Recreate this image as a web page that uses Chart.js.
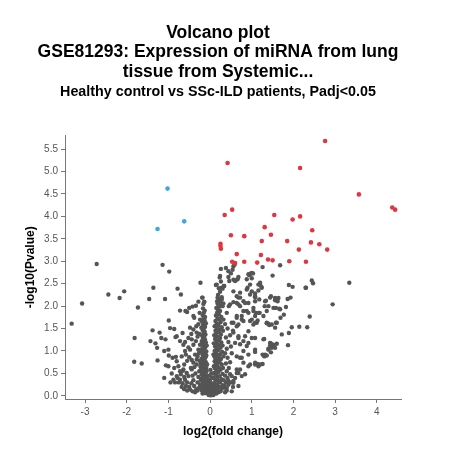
<!DOCTYPE html>
<html>
<head>
<meta charset="utf-8">
<script src="https://cdn.jsdelivr.net/npm/chart.js@4.4.0/dist/chart.umd.min.js"></script>
<style>
html,body{margin:0;padding:0;background:#fff;}
canvas{display:block;}
</style>
</head>
<body>
<canvas id="c" width="464" height="469"></canvas>
<script>
const titleLines = ['Volcano plot', 'GSE81293: Expression of miRNA from lung', 'tissue from Systemic...'];
const subtitleText = 'Healthy control vs SSc-ILD patients, Padj<0.05';
const xTitle = 'log2(fold change)';
const yTitle = '-log10(Pvalue)';
const xTicks = [-3, -2, -1, 0, 1, 2, 3, 4];
const yTicks = [0, 0.5, 1, 1.5, 2, 2.5, 3, 3.5, 4, 4.5, 5, 5.5];
const xRange = [-3.48, 4.58];
const yRange = [-0.07, 5.80];

// significantly up-regulated (red)
const upPoints = [
[0.42,5.19],[0.35,4.03],[0.53,4.15],[0.50,3.58],[0.25,3.39],[0.25,3.34],[0.26,3.28],[0.64,3.16],[0.53,2.99],
[2.76,5.68],[2.16,5.08],[3.57,4.49],[4.37,4.20],[4.44,4.15],[1.54,4.03],[1.98,3.93],[2.16,4.00],[1.31,3.76],
[2.45,3.69],[0.82,3.56],[1.46,3.59],[1.24,3.45],[1.85,3.45],[2.42,3.42],[2.62,3.38],[2.13,3.26],[2.81,3.26],
[1.22,3.14],[1.39,3.04],[1.50,3.02],[0.82,2.99],[1.13,2.97],[1.90,3.00],[2.30,2.99],[0.60,2.96]
];
// significantly down-regulated (blue)
const downPoints = [[-1.02,4.62],[-0.62,3.89],[-1.26,3.72]];
// not significant (grey)
const nsPoints = [
[-3.32,1.61],[-3.07,2.06],[-2.72,2.94],[-2.44,2.26],[-2.17,2.18],[-2.06,2.33],[-1.73,1.97],[-1.81,1.29],[-1.82,0.76],
[-1.64,0.72],[-1.46,2.16],[-1.36,2.41],[-1.38,1.46],[-1.43,1.22],[-1.31,1.17],[-1.27,1.07],[-1.26,0.79],[-1.10,0.40],
[-1.08,2.16],[-1.21,1.41],[-1.17,1.29],[-1.07,1.26],[-1.10,1.00],[-1.00,1.03],[-0.99,1.68],[-0.96,1.51],[-0.86,1.49],
[-0.99,0.90],[-1.06,0.68],[-1.00,0.66],[-0.98,2.77],[-1.14,2.92],[-0.78,2.39],[-0.70,2.26],[-0.83,1.31],[-0.90,0.85],
[-0.82,0.87],[-0.80,0.77],[-0.86,0.62],[-0.72,1.90],[-0.55,1.87],[-0.50,1.96],[-0.42,1.99],[-0.34,2.01],[-0.23,2.52],
[-0.19,2.19],[-0.40,1.78],[-0.16,2.05],[-0.59,1.89],[-0.38,1.74],
[-0.80,1.33],[-0.72,1.22],[-0.64,1.14],[-0.52,1.29],[-0.44,1.26],[-0.40,1.14],[-0.48,1.03],[-0.60,1.00],[-0.68,0.88],
[-0.76,0.66],[-0.72,0.55],[-0.64,0.59],[-0.56,0.51],[-0.80,0.44],[-0.88,0.36],[-0.72,0.36],[-0.60,0.36],[-0.52,0.44],
[-0.44,0.59],[-0.40,0.74],[-0.32,0.81],[-0.36,0.92],[-0.28,1.03],[-0.24,1.14],[-0.20,1.22],[-0.32,1.41],[-0.40,1.48],
[-0.48,1.52],
[-0.50,0.20],[-0.45,0.28],[-0.40,0.35],[-0.38,0.22],[-0.33,0.15],[-0.30,0.30],[-0.28,0.42],[-0.26,0.55],[-0.35,0.50],
[-0.42,0.45],[-0.46,0.62],[-0.38,0.64],[-0.32,0.70],[-0.25,0.78],[-0.30,0.88],[-0.27,0.95],[-0.55,0.30],[-0.58,0.22],
[-0.62,0.42],[-0.66,0.28],[-0.70,0.48],[-0.68,0.20],[-0.75,0.30],[-0.78,0.40],[-0.84,0.30],[-0.62,0.70],[-0.55,0.78],
[-0.50,0.86],[-0.44,0.80],[-0.58,0.92],[-0.52,1.08],[-0.34,1.22],[-0.30,1.32],[-0.26,1.38],[-0.45,1.38],[-0.60,1.20],
[-0.66,1.40],[-0.92,0.50],[-0.95,0.30],[-0.65,0.56],[-0.22,0.35],[-0.24,0.25],[-0.20,0.48],[-0.23,0.65],[-0.48,0.14],
[-0.42,0.10],[-0.36,0.08],[-0.30,0.12],[-0.26,0.18],[-0.55,0.12],[-0.62,0.15],[-0.28,1.60],[-0.24,1.70],[-0.33,1.55],
[-0.25,1.85],[-0.28,2.10],
[-0.18,0.05],[-0.12,0.06],[-0.08,0.08],[-0.15,0.10],[-0.20,0.12],[-0.10,0.14],[-0.17,0.17],[-0.13,0.20],[-0.07,0.22],
[-0.21,0.24],[-0.15,0.26],[-0.11,0.29],[-0.18,0.31],[-0.09,0.33],[-0.14,0.36],[-0.20,0.38],[-0.12,0.40],[-0.16,0.43],
[-0.08,0.45],[-0.19,0.47],[-0.13,0.50],[-0.10,0.52],[-0.17,0.55],[-0.14,0.58],[-0.21,0.60],[-0.09,0.62],[-0.16,0.65],
[-0.12,0.67],[-0.19,0.70],[-0.14,0.73],[-0.10,0.75],[-0.17,0.78],[-0.13,0.80],[-0.20,0.83],[-0.11,0.86],[-0.15,0.88],
[-0.18,0.91],[-0.12,0.94],[-0.16,0.97],[-0.09,0.99],[-0.14,1.02],[-0.19,1.05],[-0.12,1.08],[-0.16,1.11],[-0.13,1.14],
[-0.18,1.17],[-0.10,1.19],[-0.15,1.22],[-0.12,1.25],[-0.17,1.28],[-0.14,1.31],[-0.19,1.34],[-0.11,1.37],[-0.16,1.40],
[-0.13,1.43],[-0.18,1.47],[-0.15,1.50],[-0.12,1.54],[-0.17,1.57],[-0.14,1.61],[-0.19,1.65],[-0.13,1.68],[-0.16,1.72],
[-0.12,1.76],[-0.18,1.80],[-0.15,1.85],[-0.13,1.90],[-0.17,1.95],[-0.14,2.10],[-0.10,1.62],[-0.21,1.00],[-0.22,0.72],
[-0.07,0.38],[-0.06,0.15],[-0.05,0.28],[-0.08,0.56],[-0.07,0.70],[-0.09,0.90],[-0.08,1.12],[-0.21,1.52],
[-0.04,0.03],[0.00,0.05],[0.04,0.04],[-0.02,0.10],[0.02,0.12],[0.06,0.09],[-0.03,0.18],[0.01,0.20],[0.05,0.16],
[-0.01,0.26],[0.03,0.28],[0.07,0.24],[-0.04,0.34],[0.00,0.36],[0.05,0.40],[-0.02,0.45],[0.03,0.50],[0.01,0.58],
[-0.03,0.02],[0.08,0.02],[0.02,0.01],
[0.10,0.06],[0.15,0.05],[0.20,0.08],[0.25,0.10],[0.12,0.12],[0.18,0.14],[0.28,0.16],[0.09,0.18],[0.22,0.20],
[0.14,0.22],[0.30,0.24],[0.17,0.26],[0.10,0.28],[0.24,0.30],[0.20,0.33],[0.13,0.35],[0.27,0.37],[0.09,0.40],
[0.18,0.42],[0.23,0.44],[0.14,0.47],[0.30,0.49],[0.11,0.51],[0.20,0.53],[0.16,0.56],[0.25,0.58],[0.12,0.61],
[0.21,0.63],[0.09,0.66],[0.17,0.68],[0.28,0.70],[0.14,0.72],[0.23,0.75],[0.11,0.77],[0.19,0.79],[0.26,0.82],
[0.13,0.84],[0.21,0.86],[0.10,0.89],[0.17,0.91],[0.24,0.93],[0.14,0.96],[0.29,0.98],[0.11,1.00],[0.20,1.02],
[0.16,1.05],[0.25,1.07],[0.12,1.10],[0.22,1.12],[0.18,1.15],[0.09,1.17],[0.27,1.19],[0.15,1.22],[0.21,1.24],
[0.12,1.27],[0.24,1.29],[0.18,1.32],[0.10,1.35],[0.26,1.37],[0.15,1.40],[0.21,1.42],[0.13,1.45],[0.23,1.48],
[0.17,1.50],[0.28,1.53],[0.11,1.55],[0.20,1.58],[0.16,1.61],[0.25,1.64],[0.13,1.67],[0.22,1.70],[0.18,1.73],
[0.27,1.76],[0.14,1.79],[0.21,1.82],[0.17,1.86],[0.24,1.89],[0.19,1.92],[0.15,1.96],[0.23,1.99],[0.20,2.03],
[0.26,2.07],[0.17,2.11],[0.22,2.15],[0.28,2.20],[0.19,2.25],[0.24,2.32],[0.21,2.40],[0.26,2.55],[0.31,0.62],
[0.32,0.88],[0.30,1.12],[0.31,1.45],[0.32,1.70],[0.08,0.92],[0.07,0.50],[0.33,0.35],[0.30,2.00],[0.33,2.45],
[0.26,2.83],[0.38,2.85],[0.59,2.93],[0.54,2.81],[0.50,2.73],[0.23,2.64],[0.98,2.73],[0.94,2.69],[1.03,2.73],
[0.66,2.60],[0.88,2.60],[0.56,2.89],[0.44,2.65],[0.14,2.47],[0.30,2.39],[0.46,2.56],[0.62,2.58],[0.68,2.65],
[-0.18,2.19],[-0.14,2.09],[0.18,2.19],[0.22,2.11],[0.28,2.15],[0.32,2.06],[0.18,2.06],[0.56,2.09],[0.68,2.19],
[0.44,2.78],[0.34,2.45],[0.60,2.56],[0.92,2.71],[1.00,2.62],[0.96,2.48],[0.90,2.41],[1.00,2.33],[1.16,2.48],
[0.64,2.22],[0.72,2.19],[0.80,2.11],[0.68,2.04],[0.92,2.07],[1.08,2.11],[1.04,1.96],[0.88,1.89],[0.76,1.78],
[0.64,1.74],[0.56,1.63],[0.68,1.59],[0.80,1.67],[1.00,1.70],[1.12,1.63],[0.92,1.44],[0.84,1.33],[0.68,1.29],
[0.60,1.18],[0.72,1.15],[0.92,1.18],[1.08,1.29],[0.80,1.00],[0.64,0.88],[0.76,0.85],[0.92,0.92],[1.08,0.70],
[1.16,0.66],[0.72,0.59],[0.64,0.51],[0.84,0.48],[0.56,0.33],[0.44,0.25],[0.36,0.18],[0.52,0.10],[0.68,0.22],
[0.36,0.08],[0.40,0.12],[0.34,0.22],[0.38,0.30],[0.42,0.40],[0.36,0.45],[0.40,0.55],[0.45,0.62],[0.38,0.72],
[0.42,0.85],[0.36,0.95],[0.40,1.05],[0.44,1.20],[0.38,1.30],[0.42,1.50],[0.36,1.60],[0.40,1.85],[0.45,2.00],
[0.48,0.48],[0.50,0.30],[0.55,0.20],[0.60,0.40],[0.48,0.75],[0.52,0.95],[0.50,1.10],[0.55,1.45],[0.48,1.35],
[0.24,2.67],[0.56,2.59],[1.00,2.74],[0.16,2.48],[0.28,2.41],[1.20,2.48],[1.24,2.41],[0.88,2.37],[0.72,2.30],
[0.56,2.33],[0.48,2.04],[0.64,2.07],[0.72,2.00],[0.84,2.07],[0.96,2.26],[1.08,2.22],[1.18,2.15],[1.44,2.19],
[1.60,2.15],[1.32,2.11],[1.40,2.00],[1.52,1.96],[1.68,1.93],[0.80,1.89],[0.92,1.85],[1.04,1.89],[1.16,1.85],
[0.64,1.78],[0.76,1.70],[0.96,1.67],[1.04,1.59],[1.28,1.78],[1.36,1.63],[1.48,1.59],[1.60,1.63],[0.52,1.63],
[0.64,1.55],[0.56,1.41],[0.68,1.33],[0.80,1.22],[0.88,1.11],[1.00,1.29],[1.08,1.03],[1.28,1.26],[1.44,1.18],
[1.48,1.07],[1.40,1.03],[1.52,1.11],[1.32,0.92],[0.72,0.85],[0.80,0.74],[0.92,0.66],[0.96,0.70],[1.08,0.74],
[1.20,0.70],[0.64,0.59],[0.68,0.51],[0.76,0.44],[0.52,0.44],[0.44,0.33],[0.32,0.22],[0.56,0.29],[0.40,0.18],
[1.26,2.87],[1.68,2.91],[1.50,2.68],[1.20,2.52],[1.23,2.43],[1.16,2.35],[1.08,2.28],[1.89,2.47],[1.98,2.43],
[2.29,2.41],[2.44,2.57],[2.47,2.51],[1.46,2.22],[1.56,2.18],[1.64,2.18],[1.56,2.13],[1.62,2.11],[1.34,2.12],
[1.31,2.00],[1.86,2.16],[1.93,2.19],[1.08,2.20],[1.58,1.96],[1.66,1.94],[1.82,1.98],[1.36,1.89],[1.10,1.85],
[1.19,1.85],[1.08,1.78],[1.77,1.81],[1.69,1.74],[2.39,1.77],[1.14,1.68],[1.08,1.63],[1.36,1.62],[1.40,1.61],
[1.42,1.58],[1.58,1.63],[1.56,1.52],[1.96,1.53],[2.14,1.54],[2.33,1.53],[1.89,1.40],[1.72,1.37],[1.30,1.27],
[1.46,1.17],[1.44,1.12],[1.52,1.14],[1.60,1.16],[1.87,1.13],[1.56,1.07],[1.46,0.97],[1.40,1.05],[1.08,0.98],
[1.26,0.92],[1.30,0.88],[1.36,0.90],[1.14,0.71],[1.26,0.71],
[3.34,2.52],[2.94,2.04],[2.30,2.41]
];

const toXY = arr => arr.map(p => ({x: p[0], y: p[1]}));
const FONT = '"Liberation Sans", Arial, Helvetica, sans-serif';
const AXIS_COLOR = '#777';

new Chart(document.getElementById('c'), {
  type: 'scatter',
  data: {
    datasets: [
      {label: 'Up', data: toXY(upPoints), backgroundColor: '#e0363f', pointRadius: 2.3, borderWidth: 0, order: 0},
      {label: 'Down', data: toXY(downPoints), backgroundColor: '#3aa9e2', pointRadius: 2.3, borderWidth: 0, order: 1},
      {label: 'Not significant', data: toXY(nsPoints), backgroundColor: '#555555', pointRadius: 2.2, borderWidth: 0, order: 2}
    ]
  },
  options: {
    responsive: false,
    animation: false,
    events: [],
    layout: {padding: {left: 0, right: 28, top: 0, bottom: 0}},
    plugins: {
      legend: {display: false},
      tooltip: {enabled: false},
      title: {
        display: true,
        text: titleLines,
        color: '#000',
        font: {family: FONT, size: 17.5, weight: 'bold', lineHeight: 1.114},
        padding: {top: 23, bottom: 2}
      },
      subtitle: {
        display: true,
        text: subtitleText,
        color: '#000',
        font: {family: FONT, size: 14.3, weight: 'bold', lineHeight: 1.2},
        padding: {top: 0, bottom: 35}
      }
    },
    scales: {
      x: {
        type: 'linear',
        min: xRange[0],
        max: xRange[1],
        afterBuildTicks: s => { s.ticks = xTicks.map(v => ({value: v})); },
        afterFit: s => { s.height = 70; },
        grid: {drawOnChartArea: false, drawTicks: true, tickLength: 4, color: AXIS_COLOR},
        border: {display: true, color: AXIS_COLOR},
        ticks: {color: '#555', font: {family: FONT, size: 10}, padding: 3, maxRotation: 0, autoSkip: false,
                callback: v => String(v)},
        title: {display: true, text: xTitle, color: '#000', font: {family: FONT, size: 12, weight: 'bold', lineHeight: 1.2},
                padding: {top: 0, bottom: 30}}
      },
      y: {
        type: 'linear',
        min: yRange[0],
        max: yRange[1],
        afterBuildTicks: s => { s.ticks = yTicks.map(v => ({value: v})); },
        afterFit: s => { s.width = 65; },
        grid: {drawOnChartArea: false, drawTicks: true, tickLength: 4, color: AXIS_COLOR},
        border: {display: true, color: AXIS_COLOR},
        ticks: {color: '#555', font: {family: FONT, size: 10}, padding: 3, autoSkip: false,
                callback: v => Number(v).toFixed(1)},
        title: {display: true, text: yTitle, color: '#000', font: {family: FONT, size: 12, weight: 'bold', lineHeight: 1.2},
                padding: {top: 23, bottom: 0}}
      },
      pad: {
        type: 'linear',
        position: 'right',
        display: true,
        afterFit: s => { s.width = 35; },
        grid: {display: false},
        border: {display: false},
        ticks: {display: false},
        title: {display: false}
      }
    }
  }
});
</script>
</body>
</html>
